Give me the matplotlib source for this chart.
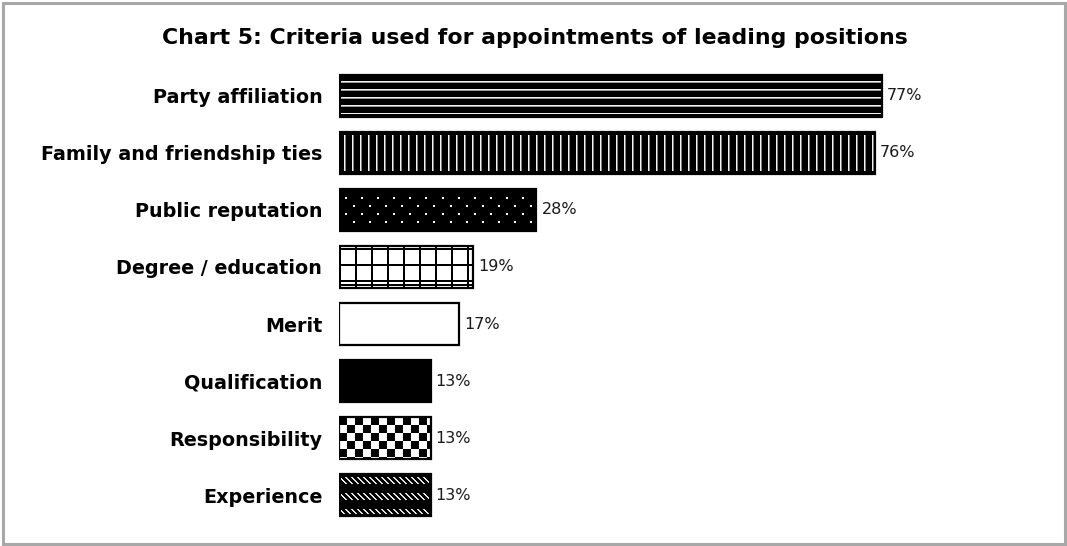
import numpy as np
import matplotlib
matplotlib.use("Agg")
import matplotlib.pyplot as plt
from matplotlib.patches import Rectangle

categories = ["Party affiliation", "Family and friendship ties", "Public reputation",
              "Degree / education", "Merit", "Qualification", "Responsibility", "Experience"]
values = [77, 76, 28, 19, 17, 13, 13, 13]
value_labels = ["77%", "76%", "28%", "19%", "17%", "13%", "13%", "13%"]
title = "Chart 5: Criteria used for appointments of leading positions"
fills = ["hstripes", "vstripes", "dots", "grid", "white", "black", "checker", "diag"]

W, H = 1067, 546
BAR_PX = 42


def texture(kind, w, h):
    r = np.arange(h)[:, None]
    c = np.arange(w)[None, :]
    img = np.zeros((h, w))
    if kind == "white":
        img[:] = 1.0
    elif kind == "black":
        pass
    elif kind == "hstripes":
        inside = (r > 3) & (r < h - 3) & (c > 1)
        img = np.where(((r - 6) % 8 == 0) & inside, 0.95, 0.0)
        img = np.where(((r - 7) % 8 == 0) & inside, 0.6, img)
    elif kind == "vstripes":
        inside = (r > 2) & (r < h - 3)
        img = np.where(((c - 5) % 8 == 0) & inside, 0.95, 0.0)
        img = np.where(((c - 6) % 8 == 0) & inside, 0.5, img)
    elif kind == "dots":
        row_k = (r - 8) // 8
        on_row = ((r - 8) % 8 < 2) & (r >= 8) & (r < h - 3)
        shift = np.where(row_k % 2 == 0, 6, 14)
        on_col = ((c - shift) % 16 < 2) & (c > 2) & (c < w - 3)
        img = np.where(on_row & on_col, 1.0, 0.0)
    elif kind == "grid":
        m = ((c % 16) < 2) | (((r - 18) % 16) < 2) | ((r >= h - 4) & (r < h - 2))
        img = np.where(m, 0.0, 1.0)
    elif kind == "checker":
        img = (((r // 8) + (c // 8)) % 2).astype(float)
    elif kind == "diag":
        band = (r - 3) % 16
        on_band = (band < 7) & (r >= 3) & (r < h - 2)
        on_diag = ((c - band) % 6 < 2) & (c > 1) & (c < w - 2)
        img = np.where(on_band & on_diag, 0.9, 0.0)
    return np.broadcast_to(img, (h, w))


fig = plt.figure(figsize=(W / 100, H / 100), dpi=100)
fig.patch.set_facecolor("white")

px_per_unit = 543 / 77.0
ax_left, ax_right = 339, 1000
ax_top, ax_bottom = 67, 524
ax = fig.add_axes([ax_left / W, (H - ax_bottom) / H, (ax_right - ax_left) / W,
                   (ax_bottom - ax_top) / H])
xmax = (ax_right - ax_left) / px_per_unit
for s in ax.spines.values():
    s.set_visible(False)
ax.set_xticks([])

slot_px = (ax_bottom - ax_top) / len(values)
bh = BAR_PX / slot_px
y = np.arange(len(values))
for i, (v, kind) in enumerate(zip(values, fills)):
    wpx = int(round(v * px_per_unit))
    img = texture(kind, wpx, BAR_PX)
    ax.imshow(img, cmap="gray", vmin=0, vmax=1, interpolation="nearest",
              extent=(0, v, y[i] + bh / 2, y[i] - bh / 2), aspect="auto", zorder=2)
    ax.barh(y[i], v, height=bh, fill=False, edgecolor="black", linewidth=1.6, zorder=3)
    ax.text(v + 5 / px_per_unit, y[i], value_labels[i], va="center", ha="left",
            fontsize=11.5, family="DejaVu Sans", color="#1a1a1a")

ax.set_xlim(0, xmax)
ax.set_ylim(len(values) - 0.5, -0.5)
ax.set_yticks(y)
ax.set_yticklabels(categories, fontsize=13.8, fontweight="bold", family="DejaVu Sans")
ax.tick_params(axis="y", length=0, pad=12)

fig.text(535 / W, 1 - 38 / H, title, ha="center", va="center", fontsize=15.8,
         fontweight="bold", family="DejaVu Sans")

fig.patches.append(Rectangle((2.5 / W, 2.5 / H), (W - 5) / W, (H - 5) / H,
                             transform=fig.transFigure, fill=False,
                             edgecolor="#a8a8a8", linewidth=2.2))

fig.savefig("out.png", dpi=100, facecolor="white")
